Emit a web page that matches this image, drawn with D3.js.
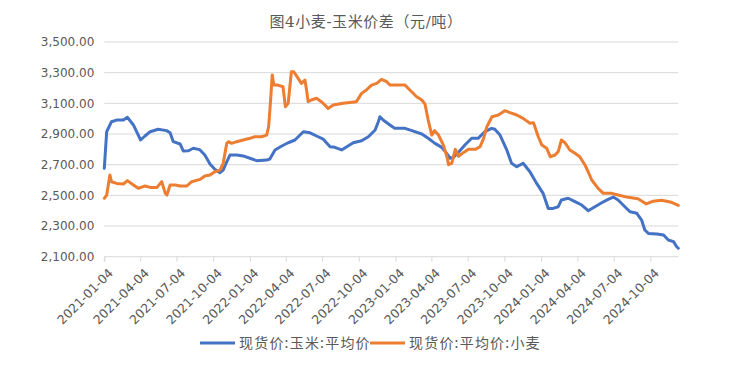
<!DOCTYPE html>
<html><head><meta charset="utf-8">
<script src="https://cdn.jsdelivr.net/npm/d3@7"></script>
<style>
html,body{margin:0;padding:0;background:#fff;}
svg{display:block;}
</style></head>
<body>
<svg id="chart" width="750" height="369"></svg>
<script>
const title = "图4小麦-玉米价差（元/吨）";
const seriesNames = ["现货价:玉米:平均价", "现货价:平均价:小麦"];
const xTickLabels = ["2021-01-04","2021-04-04","2021-07-04","2021-10-04","2022-01-04","2022-04-04","2022-07-04","2022-10-04","2023-01-04","2023-04-04","2023-07-04","2023-10-04","2024-01-04","2024-04-04","2024-07-04","2024-10-04"];
const yTicks = [2100,2300,2500,2700,2900,3100,3300,3500];

const cornDates = ["2021-01-04","2021-01-10","2021-01-22","2021-02-04","2021-02-21","2021-03-03","2021-03-18","2021-03-26","2021-04-05","2021-04-16","2021-04-29","2021-05-19","2021-06-09","2021-06-18","2021-06-26","2021-07-13","2021-07-21","2021-08-03","2021-08-15","2021-08-28","2021-09-01","2021-09-13","2021-09-26","2021-10-08","2021-10-21","2021-10-29","2021-11-07","2021-11-15","2021-12-02","2021-12-18","2022-01-04","2022-01-21","2022-02-15","2022-02-23","2022-03-08","2022-03-25","2022-04-10","2022-04-27","2022-05-18","2022-06-04","2022-06-20","2022-07-07","2022-07-24","2022-08-05","2022-08-22","2022-09-04","2022-09-20","2022-10-11","2022-10-28","2022-11-14","2022-11-22","2022-11-26","2022-12-04","2022-12-21","2023-01-02","2023-01-28","2023-02-14","2023-03-11","2023-03-27","2023-04-13","2023-04-30","2023-05-12","2023-05-21","2023-05-29","2023-06-10","2023-06-27","2023-07-14","2023-07-30","2023-08-16","2023-09-02","2023-09-10","2023-09-23","2023-10-10","2023-10-22","2023-11-04","2023-11-20","2023-12-07","2023-12-24","2024-01-09","2024-01-22","2024-02-03","2024-02-16","2024-02-24","2024-03-12","2024-03-29","2024-04-15","2024-05-01","2024-05-18","2024-06-04","2024-06-20","2024-07-03","2024-07-15","2024-08-01","2024-08-14","2024-08-31","2024-09-12","2024-09-20","2024-09-29","2024-10-20","2024-11-06","2024-11-18","2024-12-01","2024-12-09","2024-12-13"];
const cornValues = [2676,2915,2980,2991,2991,3009,2959,2915,2861,2887,2915,2931,2922,2908,2850,2835,2790,2791,2807,2800,2796,2763,2704,2670,2648,2665,2719,2763,2763,2757,2742,2726,2730,2737,2796,2822,2843,2861,2915,2908,2887,2866,2817,2813,2796,2817,2843,2856,2882,2926,2980,3013,2991,2959,2937,2937,2922,2900,2872,2839,2813,2774,2742,2748,2778,2828,2872,2872,2915,2937,2931,2893,2796,2709,2687,2709,2654,2578,2513,2415,2415,2426,2470,2481,2459,2437,2400,2426,2452,2474,2489,2470,2426,2393,2383,2339,2274,2252,2248,2241,2209,2198,2165,2155];

const wheatDates = ["2021-01-04","2021-01-10","2021-01-18","2021-01-22","2021-02-04","2021-02-21","2021-03-03","2021-03-18","2021-03-30","2021-04-16","2021-04-29","2021-05-16","2021-05-28","2021-06-06","2021-06-10","2021-06-18","2021-07-01","2021-07-13","2021-07-30","2021-08-11","2021-09-01","2021-09-13","2021-09-26","2021-10-08","2021-10-21","2021-10-29","2021-11-07","2021-11-11","2021-11-19","2021-12-02","2021-12-18","2022-01-04","2022-01-16","2022-02-02","2022-02-15","2022-02-20","2022-02-25","2022-03-01","2022-03-05","2022-03-15","2022-03-28","2022-04-03","2022-04-10","2022-04-18","2022-04-24","2022-05-05","2022-05-13","2022-05-22","2022-05-26","2022-05-30","2022-06-07","2022-06-20","2022-07-02","2022-07-11","2022-07-19","2022-08-01","2022-08-26","2022-09-28","2022-10-11","2022-10-23","2022-11-05","2022-11-18","2022-11-30","2022-12-13","2022-12-21","2023-01-07","2023-01-28","2023-02-09","2023-02-26","2023-03-11","2023-03-19","2023-03-27","2023-04-05","2023-04-12","2023-04-22","2023-05-04","2023-05-13","2023-05-17","2023-05-25","2023-06-03","2023-06-11","2023-06-24","2023-07-06","2023-07-23","2023-08-04","2023-08-13","2023-08-21","2023-09-03","2023-09-19","2023-10-05","2023-10-18","2023-11-04","2023-11-20","2023-12-07","2023-12-16","2023-12-28","2024-01-06","2024-01-18","2024-01-27","2024-02-08","2024-02-16","2024-02-24","2024-03-04","2024-03-16","2024-03-29","2024-04-10","2024-04-23","2024-05-01","2024-05-10","2024-05-26","2024-06-08","2024-06-29","2024-07-15","2024-08-09","2024-09-03","2024-09-24","2024-10-11","2024-11-01","2024-11-26","2024-12-09","2024-12-13"];
const wheatValues = [2481,2502,2633,2589,2578,2574,2596,2568,2546,2561,2552,2552,2589,2513,2502,2568,2568,2561,2561,2589,2604,2626,2633,2654,2665,2709,2839,2850,2839,2850,2861,2872,2882,2882,2893,2948,3122,3285,3219,3219,3208,3078,3100,3306,3306,3263,3230,3252,3187,3111,3122,3133,3111,3089,3067,3089,3100,3111,3165,3187,3219,3230,3256,3241,3219,3219,3219,3187,3143,3122,3095,2991,2893,2922,2893,2828,2752,2700,2709,2800,2755,2780,2800,2800,2817,2872,2948,3013,3024,3052,3039,3024,3002,2970,2974,2882,2828,2807,2752,2763,2785,2861,2843,2796,2774,2752,2698,2654,2600,2546,2513,2513,2502,2487,2478,2444,2462,2468,2455,2440,2435];

const colors = ["#4472C4", "#ED7D31"];
const parse = d3.timeParse("%Y-%m-%d");

const svg = d3.select("#chart");
const margin = {left:104.3, right:678.3, top:42, bottom:256.7};

const x = d3.scaleTime()
  .domain([parse("2021-01-04"), parse("2024-12-13")])
  .range([margin.left, margin.right]);
const y = d3.scaleLinear().domain([2100, 3500]).range([margin.bottom, margin.top]);

// title
svg.append("text")
  .attr("x", 366).attr("y", 27)
  .attr("text-anchor", "middle")
  .attr("fill", "#595959")
  .style("font-family", "'DejaVu Serif', 'Noto Sans CJK SC', serif")
  .style("font-size", "15px")
  .style("letter-spacing", "0.6px")
  .text(title);

// gridlines
svg.append("g").selectAll("line").data(yTicks.filter(d => d !== 2100)).join("line")
  .attr("x1", margin.left).attr("x2", margin.right)
  .attr("y1", d => y(d)).attr("y2", d => y(d))
  .attr("stroke", "#d9d9d9").attr("stroke-width", 1);

// y axis labels
const yAxis = d3.axisLeft(y).tickValues(yTicks).tickSize(0).tickPadding(10)
  .tickFormat(d3.format(",.2f"));
const gy = svg.append("g").attr("transform", `translate(${margin.left},0)`).call(yAxis);
gy.select(".domain").remove();
gy.selectAll("text").attr("fill", "#595959")
  .style("font-family", "'DejaVu Sans', sans-serif").style("font-size", "12px");

// x axis
const xTickDates = xTickLabels.map(parse);
const xAxis = d3.axisBottom(x).tickValues(xTickDates).tickSize(5).tickFormat(d3.timeFormat("%Y-%m-%d"));
const gx = svg.append("g").attr("transform", `translate(0,${margin.bottom})`).call(xAxis);
gx.select(".domain").attr("stroke", "#d9d9d9").attr("d", `M${margin.left},5V0H${margin.right}`);
gx.selectAll(".tick line").attr("stroke", "#d9d9d9");
gx.selectAll("text")
  .attr("fill", "#595959")
  .style("font-family", "'DejaVu Sans', sans-serif").style("font-size", "12.5px")
  .attr("text-anchor", "end")
  .attr("x", 0).attr("y", 0)
  .attr("transform", "translate(6,14) rotate(-45)")
  .attr("dy", "0.35em");

// lines
const series = [
  {name: seriesNames[0], dates: cornDates, values: cornValues, color: colors[0]},
  {name: seriesNames[1], dates: wheatDates, values: wheatValues, color: colors[1]}
];
const line = d3.line().x(d => x(d[0])).y(d => y(d[1])).curve(d3.curveLinear);
series.forEach(s => {
  const pts = s.dates.map((d, i) => [parse(d), s.values[i]]);
  svg.append("path").datum(pts)
    .attr("d", line).attr("fill", "none")
    .attr("stroke", s.color).attr("stroke-width", 3)
    .attr("stroke-linejoin", "round").attr("stroke-linecap", "round");
});

// legend
const legendPos = [200, 370];
series.forEach((s, i) => {
  const g = svg.append("g").attr("transform", `translate(${legendPos[i]},343)`);
  g.append("line").attr("x1", 0).attr("x2", 35).attr("y1", 0).attr("y2", 0)
    .attr("stroke", s.color).attr("stroke-width", 3);
  g.append("text").attr("x", 39).attr("y", 0).attr("dy", "0.35em")
    .attr("fill", "#595959")
    .style("font-family", "'Noto Sans CJK SC', sans-serif")
    .style("font-size", "14px")
    .style("letter-spacing", "1.2px")
    .text(s.name);
});
</script>
</body></html>
